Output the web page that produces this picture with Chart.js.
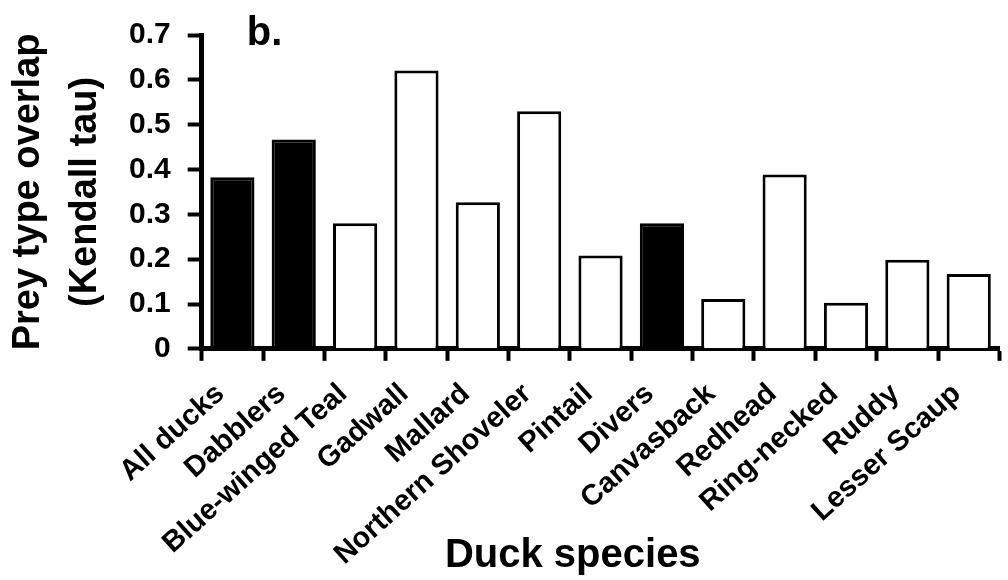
<!DOCTYPE html>
<html>
<head>
<meta charset="utf-8">
<script src="https://cdn.jsdelivr.net/npm/chart.js@4"></script>
<style>
  body { margin: 0; background: #fff; }
  #wrap { width: 1008px; height: 580px; }
</style>
</head>
<body>
<div id="wrap"><canvas id="grafico" width="1008" height="580"></canvas></div>
<script>
const especies = ['All ducks', 'Dabblers', 'Blue-winged Teal', 'Gadwall', 'Mallard', 'Northern Shoveler',
  'Pintail', 'Divers', 'Canvasback', 'Redhead', 'Ring-necked', 'Ruddy', 'Lesser Scaup']
const kendallTau = [0.383, 0.467, 0.280, 0.621, 0.327, 0.530, 0.208, 0.280, 0.111, 0.389, 0.103, 0.199, 0.167]
// grupos (todos, dabblers, divers) van rellenos
const esGrupo = [true, true, false, false, false, false, false, true, false, false, false, false, false]
const yTicks = [0, 0.1, 0.2, 0.3, 0.4, 0.5, 0.6, 0.7]

const fuente = "'Liberation Sans', Arial, sans-serif"

// etiqueta "b." del panel
const panelLabel = {
  id: 'panelLabel',
  afterDraw(chart) {
    const { ctx, chartArea } = chart
    ctx.save()
    ctx.font = 'bold 40px ' + fuente
    ctx.fillStyle = '#000'
    ctx.textBaseline = 'alphabetic'
    ctx.fillText('b.', chartArea.left + 45, chartArea.top + 10)
    ctx.restore()
  },
}

const grafico = new Chart(document.getElementById('grafico'), {
  type: 'bar',
  data: {
    labels: especies,
    datasets: [
      {
        label: 'Kendall tau',
        data: kendallTau,
        backgroundColor: esGrupo.map((g) => (g ? '#000' : '#fff')),
        borderColor: '#000',
        borderWidth: 3,
        categoryPercentage: 1,
        barPercentage: 0.72,
      },
    ],
  },
  options: {
    responsive: false,
    animation: false,
    layout: {
      padding: { top: 14, left: 0, right: 0, bottom: 0 },
    },
    plugins: {
      legend: { display: false },
      tooltip: { enabled: false },
    },
    scales: {
      x: {
        offset: true,
        grid: {
          offset: true,
          drawOnChartArea: false,
          drawTicks: true,
          tickLength: 12,
          tickWidth: 4,
          tickColor: '#000',
        },
        border: { color: '#000', width: 5 },
        ticks: {
          color: '#000',
          font: { family: fuente, size: 29, weight: 'bold' },
          minRotation: 42,
          maxRotation: 42,
          padding: 16,
          labelOffset: -12,
          autoSkip: false,
        },
        title: {
          display: true,
          text: 'Duck species' + '\u00a0'.repeat(5),
          color: '#000',
          font: { family: fuente, size: 40, weight: 'bold', lineHeight: 1.2 },
          padding: { top: -56, bottom: 0 },
        },
      },
      y: {
        min: 0,
        max: 0.7,
        afterBuildTicks: (eje) => {
          eje.ticks = yTicks.map((v) => ({ value: v }))
        },
        grid: {
          drawOnChartArea: false,
          drawTicks: true,
          tickLength: 14,
          tickWidth: 4,
          tickColor: '#000',
        },
        border: { color: '#000', width: 5 },
        ticks: {
          color: '#000',
          font: { family: fuente, size: 30, weight: 'bold' },
          padding: 17,
          callback: (v) => (v === 0 ? '0' : v.toFixed(1)),
        },
        title: {
          display: true,
          text: ['Prey type overlap', '(Kendall tau)'],
          color: '#000',
          font: { family: fuente, size: 38, weight: 'bold', lineHeight: 1.5 },
          padding: { top: 0, bottom: -2 },
        },
      },
    },
  },
  plugins: [panelLabel],
})
</script>
</body>
</html>
